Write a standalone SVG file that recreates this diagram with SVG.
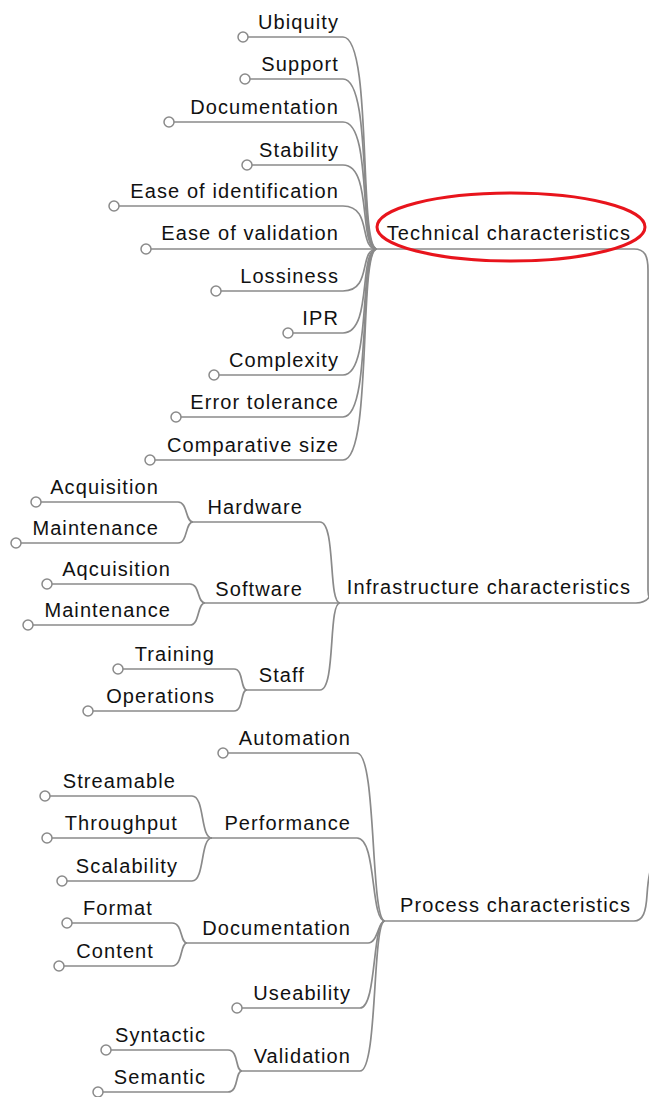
<svg xmlns="http://www.w3.org/2000/svg" width="649" height="1097" viewBox="0 0 649 1097">
  <style>
    .lbl { font-family: "Liberation Sans", Arial, sans-serif; font-size: 20px; letter-spacing: 1.1px; fill: #111; text-anchor: end; }
    .edge { fill: none; stroke: #8a8a8a; stroke-width: 1.7; }
    .dot { fill: #fff; stroke: #8a8a8a; stroke-width: 1.5; }
    .mark { fill: none; stroke: #e8141c; stroke-width: 3; }
  </style>
  <rect width="649" height="1097" fill="#fff"/>

  <!-- connectors: each branch's underline plus its curve into the parent hub -->
  <g id="connectors" class="edge">
    <!-- technical characteristics -->
    <path d="M248 37 H343 C373 37, 358 249, 377 249"/>
    <path d="M250 79 H343 C373 79, 358 249, 377 249"/>
    <path d="M174 122 H343 C373 122, 358 249, 377 249"/>
    <path d="M252 165 H343 C373 165, 358 249, 377 249"/>
    <path d="M119 206 H343 C373 206, 358 249, 377 249"/>
    <path d="M151 249 H377"/>
    <path d="M221 291 H343 C373 291, 358 249, 377 249"/>
    <path d="M293 333 H343 C373 333, 358 249, 377 249"/>
    <path d="M219 375 H343 C373 375, 358 249, 377 249"/>
    <path d="M181 417 H343 C373 417, 358 249, 377 249"/>
    <path d="M155 460 H343 C373 460, 358 249, 377 249"/>
    <path d="M377 249 H634 C645 249, 648 256, 648 270 V590 C648 596, 650 600, 652 602"/>

    <!-- infrastructure characteristics -->
    <path d="M41 502 H178 C188 502, 185 522, 193 522"/>
    <path d="M21 543 H178 C188 543, 185 522, 193 522"/>
    <path d="M193 522 H320 C336 522, 328 603, 340 603"/>
    <path d="M52 584 H190 C200 584, 197 603, 205 603"/>
    <path d="M33 625 H190 C200 625, 197 603, 205 603"/>
    <path d="M205 603 H340"/>
    <path d="M123 669 H234 C244 669, 240 690, 247 690"/>
    <path d="M93 711 H234 C244 711, 240 690, 247 690"/>
    <path d="M247 690 H320 C336 690, 328 603, 340 603"/>
    <path d="M340 603 H636 C643 603, 647 601, 650 596"/>

    <!-- process characteristics -->
    <path d="M228 753 H357 C377 753, 370 921, 385 921"/>
    <path d="M50 796 H192 C205 796, 200 838, 212 838"/>
    <path d="M52 838 H212"/>
    <path d="M67 881 H192 C205 881, 200 838, 212 838"/>
    <path d="M212 838 H357 C377 838, 370 921, 385 921"/>
    <path d="M72 923 H172 C183 923, 180 943, 187 943"/>
    <path d="M64 966 H172 C183 966, 180 943, 187 943"/>
    <path d="M187 943 H368 C378 943, 378 921, 385 921"/>
    <path d="M242 1008 H360 C377 1008, 372 921, 385 921"/>
    <path d="M111 1050 H228 C239 1050, 235 1071, 242 1071"/>
    <path d="M103 1092 H228 C239 1092, 235 1071, 242 1071"/>
    <path d="M242 1071 H360 C378 1071, 372 921, 385 921"/>
    <path d="M385 921 H634 C643 921, 646 912, 647 895 C648 880, 650 870, 652 865"/>
  </g>

  <!-- technical characteristics branch -->
  <g id="technical">
    <text class="lbl" x="631" y="240">Technical characteristics</text>
    <ellipse class="mark" cx="511" cy="227" rx="134" ry="34"/>
  </g>
  <g id="ubiquity"><circle class="dot" cx="243" cy="37" r="5"/><text class="lbl" x="339" y="29">Ubiquity</text></g>
  <g id="support"><circle class="dot" cx="245" cy="79" r="5"/><text class="lbl" x="339" y="71">Support</text></g>
  <g id="documentation-tech"><circle class="dot" cx="169" cy="122" r="5"/><text class="lbl" x="339" y="114">Documentation</text></g>
  <g id="stability"><circle class="dot" cx="247" cy="165" r="5"/><text class="lbl" x="339" y="157">Stability</text></g>
  <g id="ease-identification"><circle class="dot" cx="114" cy="206" r="5"/><text class="lbl" x="339" y="198">Ease of identification</text></g>
  <g id="ease-validation"><circle class="dot" cx="146" cy="249" r="5"/><text class="lbl" x="339" y="240">Ease of validation</text></g>
  <g id="lossiness"><circle class="dot" cx="216" cy="291" r="5"/><text class="lbl" x="339" y="283">Lossiness</text></g>
  <g id="ipr"><circle class="dot" cx="288" cy="333" r="5"/><text class="lbl" x="339" y="325">IPR</text></g>
  <g id="complexity"><circle class="dot" cx="214" cy="375" r="5"/><text class="lbl" x="339" y="367">Complexity</text></g>
  <g id="error-tolerance"><circle class="dot" cx="176" cy="417" r="5"/><text class="lbl" x="339" y="409">Error tolerance</text></g>
  <g id="comparative-size"><circle class="dot" cx="150" cy="460" r="5"/><text class="lbl" x="339" y="452">Comparative size</text></g>

  <!-- infrastructure characteristics branch -->
  <g id="infrastructure"><text class="lbl" x="631" y="594">Infrastructure characteristics</text></g>
  <g id="hardware"><text class="lbl" x="303" y="514">Hardware</text></g>
  <g id="hw-acquisition"><circle class="dot" cx="36" cy="502" r="5"/><text class="lbl" x="159" y="494">Acquisition</text></g>
  <g id="hw-maintenance"><circle class="dot" cx="16" cy="543" r="5"/><text class="lbl" x="159" y="535">Maintenance</text></g>
  <g id="software"><text class="lbl" x="303" y="596">Software</text></g>
  <g id="sw-acquisition"><circle class="dot" cx="47" cy="584" r="5"/><text class="lbl" x="171" y="576">Aqcuisition</text></g>
  <g id="sw-maintenance"><circle class="dot" cx="28" cy="625" r="5"/><text class="lbl" x="171" y="617">Maintenance</text></g>
  <g id="staff"><text class="lbl" x="305" y="682">Staff</text></g>
  <g id="training"><circle class="dot" cx="118" cy="669" r="5"/><text class="lbl" x="215" y="661">Training</text></g>
  <g id="operations"><circle class="dot" cx="88" cy="711" r="5"/><text class="lbl" x="215" y="703">Operations</text></g>

  <!-- process characteristics branch -->
  <g id="process"><text class="lbl" x="631" y="912">Process characteristics</text></g>
  <g id="automation"><circle class="dot" cx="223" cy="753" r="5"/><text class="lbl" x="351" y="745">Automation</text></g>
  <g id="performance"><text class="lbl" x="351" y="830">Performance</text></g>
  <g id="streamable"><circle class="dot" cx="45" cy="796" r="5"/><text class="lbl" x="176" y="788">Streamable</text></g>
  <g id="throughput"><circle class="dot" cx="47" cy="838" r="5"/><text class="lbl" x="178" y="830">Throughput</text></g>
  <g id="scalability"><circle class="dot" cx="62" cy="881" r="5"/><text class="lbl" x="178" y="873">Scalability</text></g>
  <g id="documentation-proc"><text class="lbl" x="351" y="935">Documentation</text></g>
  <g id="format"><circle class="dot" cx="67" cy="923" r="5"/><text class="lbl" x="153" y="915">Format</text></g>
  <g id="content"><circle class="dot" cx="59" cy="966" r="5"/><text class="lbl" x="154" y="958">Content</text></g>
  <g id="useability"><circle class="dot" cx="237" cy="1008" r="5"/><text class="lbl" x="351" y="1000">Useability</text></g>
  <g id="validation"><text class="lbl" x="351" y="1063">Validation</text></g>
  <g id="syntactic"><circle class="dot" cx="106" cy="1050" r="5"/><text class="lbl" x="206" y="1042">Syntactic</text></g>
  <g id="semantic"><circle class="dot" cx="98" cy="1092" r="5"/><text class="lbl" x="206" y="1084">Semantic</text></g>
</svg>
